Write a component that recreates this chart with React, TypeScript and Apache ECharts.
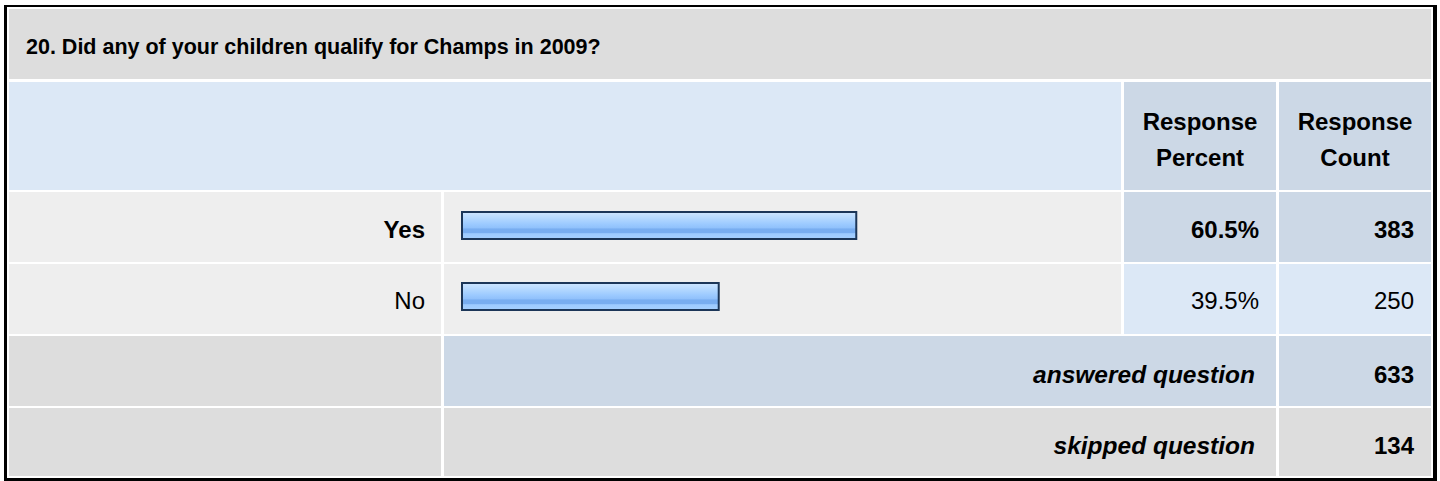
import React, { useEffect, useRef } from "react";
import * as echarts from "echarts";

const titleText = "20. Did any of your children qualify for Champs in 2009?";
const categories = ["Yes", "No"];
const percents = [60.5, 39.5];
const counts = [383, 250];
const headerLabels = ["Response\nPercent", "Response\nCount"];
const summaryLabels = ["answered question", "skipped question"];
const summaryCounts = [633, 134];

const FONT = "'Liberation Sans', Arial, Helvetica, sans-serif";
const GRAY = "#dddddd";
const LIGHT_GRAY = "#eeeeee";
const LIGHT_BLUE = "#dce8f6";
const BLUE = "#ccd8e6";

export default function App() {
  const ref = useRef<HTMLDivElement>(null);

  useEffect(() => {
    if (!ref.current) return;
    const chart = echarts.init(ref.current, undefined, { renderer: "svg" });

    const cols = {
      label: [9, 441],
      bar: [444, 1121],
      pct: [1124, 1276],
      cnt: [1279, 1431],
    };
    const rows = {
      title: [9, 79],
      header: [82, 190],
      r0: [192, 262],
      r1: [264, 334],
      ans: [336, 406],
      skip: [408, 476],
    };
    const cell = (c: number[], r: number[], fill: string) => ({
      type: "rect",
      z: -10,
      silent: true,
      shape: { x: c[0], y: r[0], width: c[1] - c[0], height: r[1] - r[0] },
      style: { fill },
    });

    const graphics: any[] = [
      { type: "rect", z: -20, silent: true, shape: { x: 4, y: 5, width: 1433, height: 476 }, style: { fill: "#000" } },
      { type: "rect", z: -19, silent: true, shape: { x: 7, y: 7, width: 1426, height: 471 }, style: { fill: "#fff" } },
      cell([9, 1431], rows.title, GRAY),
      cell([9, 1121], rows.header, LIGHT_BLUE),
      cell(cols.pct, rows.header, BLUE),
      cell(cols.cnt, rows.header, BLUE),
      cell(cols.label, rows.r0, LIGHT_GRAY),
      cell(cols.bar, rows.r0, LIGHT_GRAY),
      cell(cols.pct, rows.r0, BLUE),
      cell(cols.cnt, rows.r0, BLUE),
      cell(cols.label, rows.r1, LIGHT_GRAY),
      cell(cols.bar, rows.r1, LIGHT_GRAY),
      cell(cols.pct, rows.r1, LIGHT_BLUE),
      cell(cols.cnt, rows.r1, LIGHT_BLUE),
      cell(cols.label, rows.ans, GRAY),
      cell([444, 1276], rows.ans, BLUE),
      cell(cols.cnt, rows.ans, BLUE),
      cell(cols.label, rows.skip, GRAY),
      cell([444, 1276], rows.skip, GRAY),
      cell(cols.cnt, rows.skip, GRAY),
      {
        type: "text",
        z: 5,
        x: 26,
        y: 47,
        style: {
          text: titleText,
          font: `bold 21.5px ${FONT}`,
          fill: "#000",
          verticalAlign: "middle",
          align: "left",
        },
      },
    ];
    headerLabels.forEach((h, i) => {
      const c = i === 0 ? cols.pct : cols.cnt;
      graphics.push({
        type: "text",
        z: 5,
        x: (c[0] + c[1]) / 2,
        y: 139,
        style: {
          text: h,
          font: `bold 24px ${FONT}`,
          lineHeight: 36,
          fill: "#000",
          align: "center",
          verticalAlign: "middle",
        },
      });
    });
    summaryLabels.forEach((s, i) => {
      const r = i === 0 ? rows.ans : rows.skip;
      const cy = (r[0] + r[1]) / 2 + 3;
      graphics.push({
        type: "text",
        z: 5,
        x: 1255,
        y: cy,
        style: { text: s, font: `italic bold 24.5px ${FONT}`, fill: "#000", align: "right", verticalAlign: "middle" },
      });
      graphics.push({
        type: "text",
        z: 5,
        x: 1414,
        y: cy,
        style: { text: String(summaryCounts[i]), font: `bold 24px ${FONT}`, fill: "#000", align: "right", verticalAlign: "middle" },
      });
    });

    const gridLeft = 461;
    const gridWidth = 655;
    const axisRight = gridLeft + gridWidth;
    const rich = {
      b: { fontFamily: FONT, fontSize: 24, fontWeight: "bold", color: "#000", padding: [7, 0, 0, 0] },
      n: { fontFamily: FONT, fontSize: 24, fontWeight: "normal", color: "#000", padding: [7, 0, 0, 0] },
    };
    const pick = (idx: number, txt: string) => (idx === 0 ? `{b|${txt}}` : `{n|${txt}}`);

    const hiddenAxis = { axisLine: { show: false }, axisTick: { show: false }, splitLine: { show: false } };

    chart.setOption({
      animation: false,
      backgroundColor: "#fff",
      graphic: graphics,
      grid: { left: gridLeft, width: gridWidth, top: 190, height: 142, containLabel: false },
      xAxis: { type: "value", min: 0, max: 100, show: false },
      yAxis: [
        {
          type: "category",
          data: categories,
          inverse: true,
          position: "left",
          ...hiddenAxis,
          axisLabel: {
            margin: 36,
            formatter: (v: string) => pick(categories.indexOf(v), v),
            rich,
          },
        },
        {
          type: "category",
          data: categories,
          inverse: true,
          position: "right",
          ...hiddenAxis,
          axisLabel: {
            margin: 1259 - axisRight,
            align: "right",
            formatter: (v: string) => {
              const i = categories.indexOf(v);
              return pick(i, `${percents[i].toFixed(1)}%`);
            },
            rich,
          },
        },
        {
          type: "category",
          data: categories,
          inverse: true,
          position: "right",
          ...hiddenAxis,
          axisLabel: {
            margin: 1414 - axisRight,
            align: "right",
            formatter: (v: string) => {
              const i = categories.indexOf(v);
              return pick(i, String(counts[i]));
            },
            rich,
          },
        },
      ],
      series: [
        {
          type: "bar",
          yAxisIndex: 0,
          data: percents,
          barWidth: 29,
          itemStyle: {
            borderColor: "#1c3658",
            borderWidth: 2,
            color: new echarts.graphic.LinearGradient(0, 0, 0, 1, [
              { offset: 0, color: "#cfe6ff" },
              { offset: 0.25, color: "#b2d7ff" },
              { offset: 0.45, color: "#9ccaff" },
              { offset: 0.6, color: "#8fc0fb" },
              { offset: 0.62, color: "#78adf0" },
              { offset: 0.78, color: "#78adf0" },
              { offset: 0.8, color: "#9ccaff" },
              { offset: 1, color: "#a6d0ff" },
            ]),
          },
        },
      ],
    });

    return () => chart.dispose();
  }, []);

  return (
    <div
      ref={ref}
      style={{ position: "fixed", left: 0, top: 0, width: 1440, height: 481 }}
    />
  );
}
